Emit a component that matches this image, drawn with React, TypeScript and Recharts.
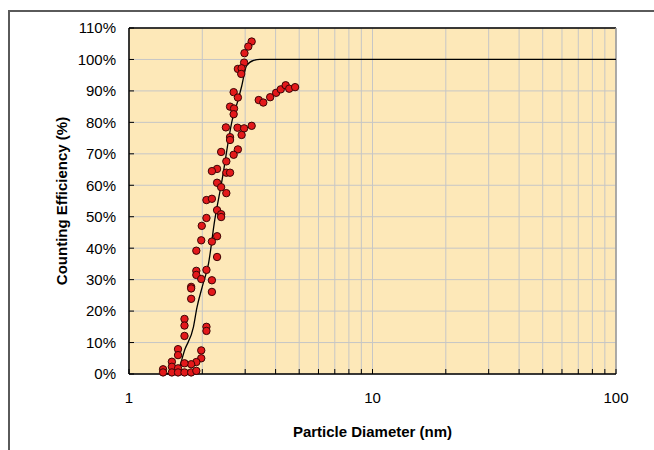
import React from "react"
import {
  ScatterChart,
  Scatter,
  XAxis,
  YAxis,
  CartesianGrid,
  ReferenceLine,
} from "recharts"

// measured points: particle diameter (nm) and counting efficiency (%)
const diameters = [
  3.19, 3.09, 2.98, 2.97, 2.80, 2.90, 2.89, 2.69, 2.80, 2.60, 2.70, 2.69, 2.50, 2.79, 2.97, 3.19,
  3.41, 3.56, 3.80, 4.02, 4.20, 4.40, 4.55, 4.81,
  2.60, 2.60, 2.90, 2.80, 2.69, 2.39, 2.51, 2.30, 2.19, 2.51, 2.60, 2.30, 2.39, 2.51, 2.08, 2.19,
  2.30, 2.39, 2.39, 2.08, 1.99,
  2.30, 1.98, 2.19, 1.89, 2.30, 1.89, 1.89, 2.08, 1.98, 2.19, 1.80, 1.80, 2.19, 1.80,
  1.69, 1.69, 1.69, 2.08, 2.08, 1.59, 1.59, 1.98, 1.98, 1.89, 1.80, 1.69, 1.50, 1.50, 1.38, 1.59,
  1.38, 1.50, 1.59, 1.69, 1.80, 1.89,
]
const efficiencies = [
  105.7, 104.1, 102.0, 99.0, 97.0, 97.2, 95.4, 89.6, 87.9, 85.0, 84.4, 82.6, 78.4, 78.3, 78.1, 78.9,
  87.1, 86.3, 88.0, 89.4, 90.5, 91.8, 90.7, 91.2,
  75.3, 74.4, 76.0, 71.4, 69.7, 70.6, 67.6, 65.2, 64.5, 64.0, 64.0, 60.8, 59.4, 57.5, 55.3, 55.7,
  52.1, 50.8, 49.9, 49.6, 47.1,
  43.8, 42.5, 42.1, 39.2, 37.2, 32.8, 31.5, 33.1, 30.2, 29.8, 27.7, 27.2, 26.1, 23.9,
  17.5, 15.4, 12.1, 15.0, 13.7, 7.9, 6.0, 7.5, 5.0, 3.8, 3.1, 3.4, 3.9, 2.3, 1.5, 1.8,
  0.5, 0.5, 0.5, 0.5, 0.5, 1.0,
]

// fitted curve
const fitDiameters = [1.4, 1.57, 1.7, 1.84, 1.9, 2.0, 2.12, 2.25, 2.4, 2.66, 2.8, 2.9, 3.04, 3.25, 3.45, 100]
const fitEfficiencies = [0, 0.7, 8, 15, 21, 27.8, 35, 49, 60.8, 81, 86.9, 91.4, 98, 99.7, 100, 100]

const xTicks = [1, 2, 3, 4, 5, 6, 7, 8, 9, 10, 20, 30, 40, 50, 60, 70, 80, 90, 100]
const xTickLabels = [1, 10, 100]
const yTicks = [0, 10, 20, 30, 40, 50, 60, 70, 80, 90, 100, 110]

const points = diameters.map((d, i) => ({ d, e: efficiencies[i] }))
const fit = fitDiameters.map((d, i) => ({ d, e: fitEfficiencies[i] }))

const font = "'Liberation Sans', Arial, sans-serif"

const RedDot = (props: any) => (
  <circle cx={props.cx} cy={props.cy} r={3.7} fill="#E3191B" stroke="#3a0505" strokeWidth={1} />
)

export default function App() {
  return (
    <div style={{ position: "absolute", left: 0, top: 0, width: 654, height: 450, background: "#fff" }}>
      <div
        style={{
          position: "absolute",
          left: 8,
          top: 10,
          width: 646,
          height: 440,
          borderTop: "2px solid #5a5a5a",
          borderLeft: "2px solid #5a5a5a",
          boxSizing: "border-box",
        }}
      />
      <div style={{ position: "absolute", left: 0, top: 0 }}>
        <ScatterChart
          width={654}
          height={450}
          margin={{ top: 28, right: 38, bottom: 0, left: 49 }}
          style={{ fontFamily: font }}
        >
          <CartesianGrid fill="#FDE8B8" stroke="#C6C6C6" strokeWidth={1} />
          <XAxis
            type="number"
            dataKey="d"
            scale="log"
            domain={[1, 100]}
            allowDataOverflow
            ticks={xTicks}
            interval={0}
            height={76}
            tickSize={-5}
            tickMargin={23}
            tickFormatter={(v: number) => (xTickLabels.includes(v) ? String(v) : "")}
            tick={{ fill: "#000", fontSize: 15 }}
            axisLine={{ stroke: "#000", strokeWidth: 1.5 }}
            tickLine={{ stroke: "#000" }}
            label={{
              value: "Particle Diameter (nm)",
              position: "insideBottom",
              offset: 13,
              style: { fontWeight: "bold", fontSize: 15, fill: "#000" },
            }}
          />
          <YAxis
            type="number"
            dataKey="e"
            domain={[0, 110]}
            ticks={yTicks}
            interval={0}
            width={80}
            tickSize={-5}
            tickMargin={18}
            tickFormatter={(v: number) => `${v}%`}
            tick={{ fill: "#000", fontSize: 15 }}
            axisLine={{ stroke: "#000", strokeWidth: 1.5 }}
            tickLine={{ stroke: "#000" }}
            label={{
              value: "Counting Efficiency (%)",
              angle: -90,
              position: "insideLeft",
              offset: 13,
              style: { fontWeight: "bold", fontSize: 15, fill: "#000", textAnchor: "middle" },
            }}
          />
          <ReferenceLine y={110} stroke="#000" strokeWidth={1.5} />
          <ReferenceLine x={100} stroke="#999" strokeWidth={1.5} />
          <Scatter
            data={fit}
            line={{ stroke: "#000", strokeWidth: 1.3 }}
            lineJointType="monotoneX"
            shape={() => <g />}
            isAnimationActive={false}
          />
          <Scatter data={points} shape={RedDot} isAnimationActive={false} />
        </ScatterChart>
      </div>
    </div>
  )
}
